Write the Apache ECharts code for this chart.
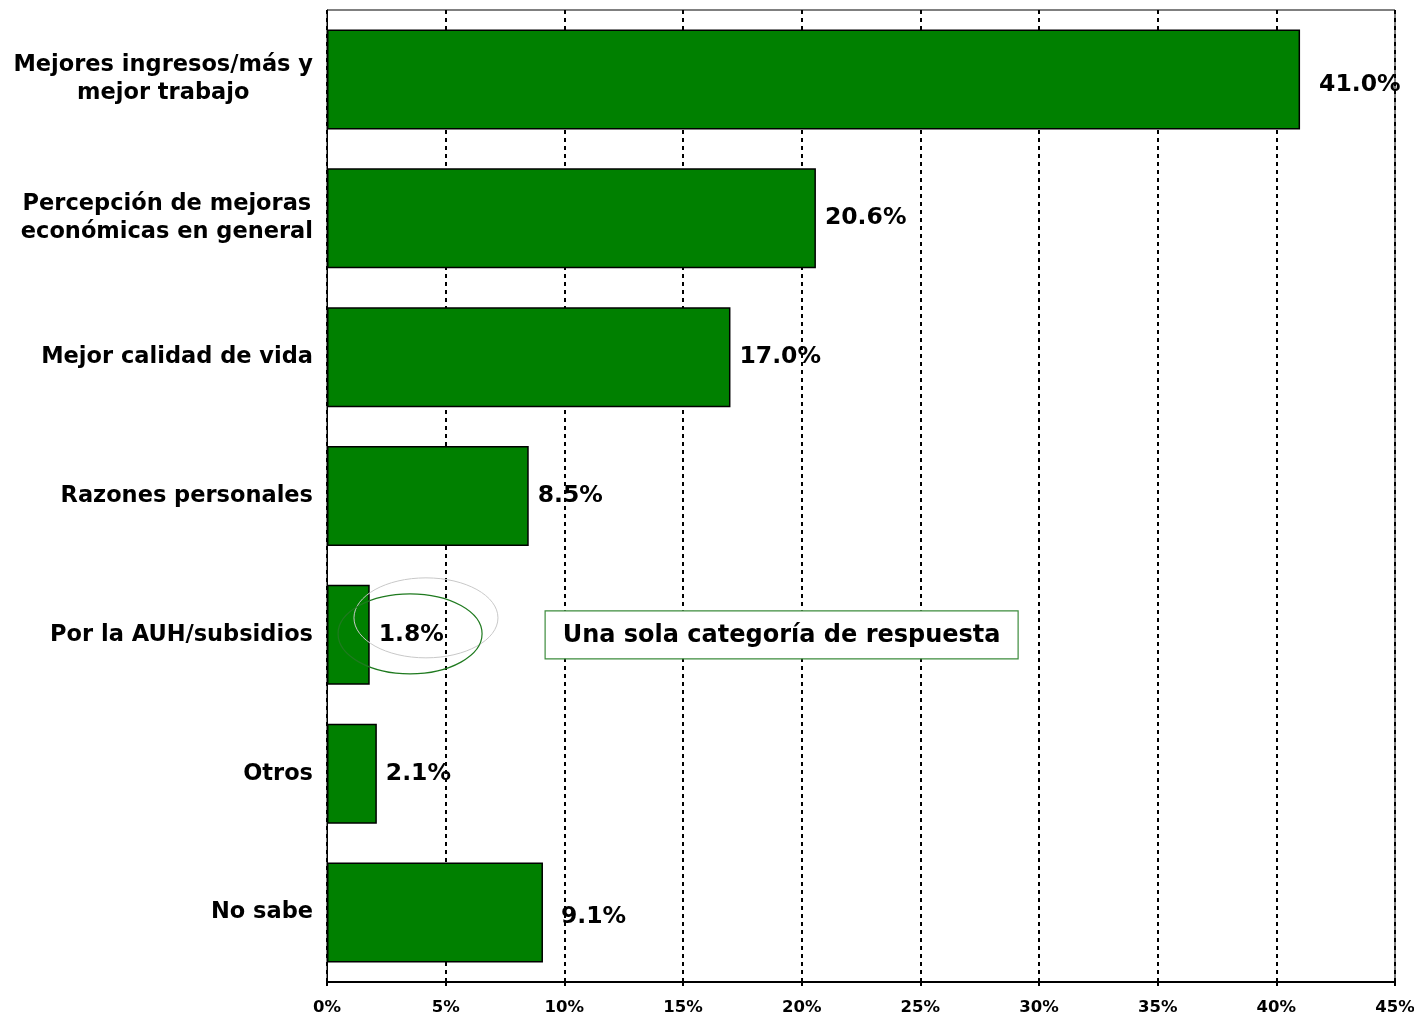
<!DOCTYPE html>
<html>
<head>
<meta charset="utf-8">
<script src="https://cdn.jsdelivr.net/npm/echarts@6/dist/echarts.min.js"></script>
<style>
  html, body { margin: 0; padding: 0; background: #fff; }
  #chart { width: 1414px; height: 1014px; }
</style>
</head>
<body>
<div id="chart"></div>
<script>
// motivos, orden de arriba hacia abajo
var categorias = [
  'Mejores ingresos/más y\nmejor trabajo',
  'Percepción de mejoras\neconómicas en general',
  'Mejor calidad de vida',
  'Razones personales',
  'Por la AUH/subsidios',
  'Otros',
  'No sabe'
]
var valores = [41.0, 20.6, 17.0, 8.5, 1.8, 2.1, 9.1]
var nota = 'Una sola categoría de respuesta'

var FONT = '"DejaVu Sans", Verdana, sans-serif'
var chart = echarts.init(document.getElementById('chart'), null, { renderer: 'canvas' })

// 41.0% y 9.1% van un poco mas separados de la barra
var datos = valores.map(function (v, i) {
  var item = { value: v }
  if (i === 0) item.label = { offset: [10, 5] }
  if (i === 6) item.label = { offset: [9, 4] }
  return item
})

var option = {
  animation: false,
  grid: {
    left: 327,
    right: 19,
    top: 10,
    bottom: 32,
    outerBoundsMode: 'none',
    show: true,
    borderColor: '#000',
    borderWidth: 1
  },
  xAxis: {
    type: 'value',
    min: 0,
    max: 45,
    interval: 5,
    axisLine: { show: true, lineStyle: { color: '#000', width: 2 } },
    axisTick: { show: true, length: 4, inside: false, lineStyle: { color: '#000', width: 2 } },
    axisLabel: {
      color: '#000',
      fontFamily: FONT,
      fontWeight: 'bold',
      fontSize: 16.5,
      margin: 17,
      formatter: '{value}%'
    },
    splitLine: { show: true, lineStyle: { color: '#000', width: 2, type: [4, 4] } }
  },
  yAxis: {
    type: 'category',
    inverse: true,
    data: categorias,
    axisLine: { show: true, lineStyle: { color: '#000', width: 1 } },
    axisTick: { show: false },
    axisLabel: {
      color: '#000',
      fontFamily: FONT,
      fontWeight: 'bold',
      fontSize: 22.5,
      lineHeight: 28,
      margin: 14,
      align: 'right',
      // lineas centradas entre si, bloque alineado a la derecha
      formatter: function (v) {
        return v.split('\n').map(function (s) { return '{c|' + s + '}' }).join('\n')
      },
      rich: {
        c: {
          align: 'center',
          color: '#000',
          fontFamily: FONT,
          fontWeight: 'bold',
          fontSize: 22.5,
          lineHeight: 28
        }
      }
    }
  },
  series: [{
    type: 'bar',
    data: datos,
    barWidth: '72%',
    itemStyle: { color: '#008000', borderColor: '#000', borderWidth: 1.5 },
    label: {
      show: true,
      position: 'right',
      distance: 9,
      color: '#000',
      fontFamily: FONT,
      fontWeight: 'bold',
      fontSize: 23.5,
      formatter: function (p) { return p.value.toFixed(1) + '%' }
    }
  }]
}
chart.setOption(option)

// anotaciones: recuadro y elipses alrededor de 1.8%
var pBox1 = chart.convertToPixel({ gridIndex: 0 }, [9.19, 4])
var pBox2 = chart.convertToPixel({ gridIndex: 0 }, [29.12, 4])
var pElV = chart.convertToPixel({ gridIndex: 0 }, [3.5, 4])
var pElG = chart.convertToPixel({ gridIndex: 0 }, [4.17, 4])

chart.setOption({
  graphic: [
    {
      type: 'ellipse',
      shape: { cx: pElG[0], cy: pElG[1] - 17, rx: 72, ry: 40 },
      style: { fill: 'none', stroke: '#c8c8c8', lineWidth: 1 },
      z: 100
    },
    {
      type: 'ellipse',
      shape: { cx: pElV[0], cy: pElV[1] - 1, rx: 72, ry: 40 },
      style: { fill: 'none', stroke: '#1f7a1f', lineWidth: 1.2 },
      z: 100
    },
    {
      type: 'rect',
      shape: { x: pBox1[0], y: pBox1[1] - 24, width: pBox2[0] - pBox1[0], height: 48 },
      style: { fill: '#fff', stroke: '#3d8c3d', lineWidth: 1.2 },
      z: 100
    },
    {
      type: 'text',
      x: (pBox1[0] + pBox2[0]) / 2,
      y: pBox1[1] + 1,
      style: {
        text: nota,
        fill: '#000',
        font: 'bold 24px ' + FONT,
        align: 'center',
        verticalAlign: 'middle'
      },
      z: 101
    }
  ]
})
</script>
</body>
</html>
